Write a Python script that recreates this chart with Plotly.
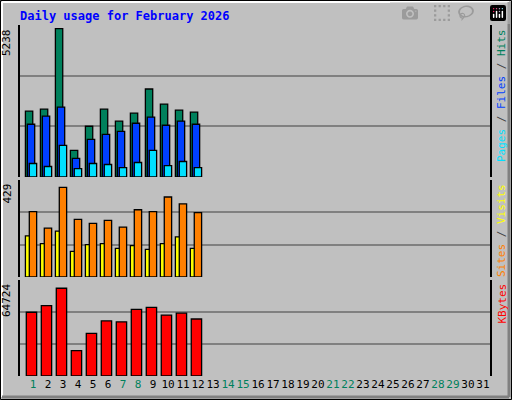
import plotly.graph_objects as go

days = list(range(1, 32))
data_days = list(range(1, 13))
hits = [2324, 2395, 5238, 938, 1791, 2395, 1969, 2253, 3106, 2573, 2360, 2288]
files = [1862, 2146, 2466, 654, 1329, 1507, 1613, 1898, 2111, 1827, 1969, 1862]
pages = [476, 370, 1116, 299, 476, 441, 334, 512, 938, 405, 547, 334]
sites = [313, 234, 429, 276, 257, 271, 239, 322, 313, 383, 350, 308]
visits = [197, 160, 220, 123, 155, 160, 137, 150, 132, 160, 192, 137]
kbytes = [47020, 51977, 64724, 18695, 31441, 40647, 39939, 49145, 50561, 44896, 46312, 42063]
weekends = [1, 7, 8, 14, 15, 21, 22, 28, 29]
max_hits, max_sites, max_kb = 5238, 429, 64724

W, H = 512, 400
L, R, T, B = 20, 22, 25, 24
PW, PH = W - L - R, H - T - B
FONT = "DejaVu Sans Mono"

def bar(x, y, color, offset, width, axis):
    return go.Bar(x=x, y=y, marker=dict(color=color, line=dict(color="black", width=1.3)),
                  offset=offset, width=width, xaxis="x", yaxis=axis, showlegend=False,
                  hoverinfo="skip")

fig = go.Figure()
fig.add_trace(bar(data_days, hits, "#00805C", -0.51, 0.49, "y"))
fig.add_trace(bar(data_days, files, "#0040FF", -0.38, 0.49, "y"))
fig.add_trace(bar(data_days, pages, "#00E0FF", -0.25, 0.49, "y"))
fig.add_trace(bar(data_days, visits, "#FFFF00", -0.51, 0.49, "y2"))
fig.add_trace(bar(data_days, sites, "#FF8000", -0.25, 0.49, "y2"))
fig.add_trace(bar(data_days, kbytes, "#FF0000", -0.45, 0.69, "y3"))

def py(pix):  # pixel y from top -> paper fraction
    return (H - B - pix) / PH

def yax(top, dom):
    return dict(domain=dom, range=[0, top], tickvals=[top / 3, 2 * top / 3], showticklabels=False,
                ticks="", showgrid=True, gridcolor="#808080", gridwidth=1.5, zeroline=False,
                showline=True, linecolor="black", linewidth=2, mirror=True, fixedrange=True)

tick_text = [f'<span style="color:{"#00805C" if d in weekends else "black"}">{d}</span>' for d in days]

fig.update_layout(
    width=W, height=H, margin=dict(l=L, r=R, t=T, b=B),
    paper_bgcolor="#C0C0C0", plot_bgcolor="#C0C0C0", barmode="overlay",
    font=dict(family=FONT, size=11, color="black"),
    xaxis=dict(range=[0.13, 31.47], tickvals=days, ticktext=tick_text, ticks="", tickangle=0,
               showgrid=False, zeroline=False, showline=False, fixedrange=True,
               tickfont=dict(size=11), anchor="y3", automargin=False),
    yaxis=yax(max_hits * 151 / 147.4, [py(177), 1]),
    yaxis2=yax(max_sites * 100 / 92.4, [py(277), py(180)]),
    yaxis3=yax(max_kb * 100 / 91.4, [0, py(280)]),
)

sep = '<span style="color:#404040"> / </span>'
anns = [
    dict(text="<b>Daily usage for February 2026</b>", x=-2 / PW, y=py(16), xanchor="left",
         yanchor="middle", font=dict(color="#0000FF", size=12)),
    dict(text=f"{max_hits}", x=-5 / PW, y=py(27), xanchor="right", yanchor="top", textangle=-90),
    dict(text=f"{max_sites}", x=-5 / PW, y=py(182), xanchor="right", yanchor="top", textangle=-90),
    dict(text=f"{max_kb}", x=-5 / PW, y=py(282), xanchor="right", yanchor="top", textangle=-90),
    dict(text='<span style="color:#00E0FF">Pages</span>' + sep + '<span style="color:#0040FF">Files</span>'
         + sep + '<span style="color:#00805C">Hits</span>',
         x=1 + 3 / PW, y=py(27), xanchor="left", yanchor="top", textangle=-90),
    dict(text='<span style="color:#FF8000">Sites</span>' + sep + '<span style="color:#FFFF00">Visits</span>',
         x=1 + 3 / PW, y=py(182), xanchor="left", yanchor="top", textangle=-90),
    dict(text='<span style="color:#FF0000">KBytes</span>',
         x=1 + 3 / PW, y=py(282), xanchor="left", yanchor="top", textangle=-90),
]
for a in anns:
    a.update(xref="paper", yref="paper", showarrow=False)
fig.update_layout(annotations=anns)

def px(pix):
    return (pix - L) / PW

shapes = [
    dict(type="rect", x0=px(0.5), x1=px(W - 0.5), y0=py(H - 0.5), y1=py(0.5), line=dict(color="black", width=1)),
    dict(type="line", x0=px(2), x1=px(W - 3), y0=py(2), y1=py(2), line=dict(color="white", width=2)),
    dict(type="line", x0=px(2), x1=px(2), y0=py(2), y1=py(H - 3), line=dict(color="white", width=2)),
    dict(type="line", x0=px(W - 3), x1=px(W - 3), y0=py(2), y1=py(H - 3), line=dict(color="#808080", width=3)),
    dict(type="line", x0=px(2), x1=px(W - 3), y0=py(H - 3), y1=py(H - 3), line=dict(color="#808080", width=3)),
]
for s in shapes:
    s.update(xref="paper", yref="paper", layer="above")
fig.update_layout(shapes=shapes)

fig.write_html("out.html", post_script="document.body.style.margin='0';")
